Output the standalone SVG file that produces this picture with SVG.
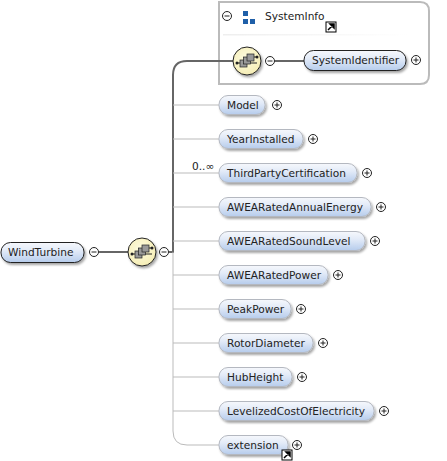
<svg xmlns="http://www.w3.org/2000/svg" width="447" height="461" viewBox="0 0 447 461">
<style>
.t{font-family:"DejaVu Sans",sans-serif;font-size:10.6px;fill:#222}
.el{fill:url(#g);stroke:#222;stroke-width:1;filter:url(#sh)}
.op{fill:url(#g);stroke:#b4b8c0;stroke-width:1;filter:url(#sh)}
.thin{fill:none;stroke:#bbb;stroke-width:1}
.thick{fill:none;stroke:#666;stroke-width:2}
.c{fill:#fff;stroke:#222;stroke-width:1}
.s{stroke:#222;stroke-width:1;fill:none}
</style>
<defs>
<linearGradient id="g" x1="0" y1="0" x2="0" y2="1"><stop offset="0" stop-color="#f6f8fc"/><stop offset=".4" stop-color="#e3ebf8"/><stop offset="1" stop-color="#b6ccec"/></linearGradient>
<radialGradient id="y" cx=".45" cy=".4" r=".6"><stop offset="0" stop-color="#fdfbe0"/><stop offset="1" stop-color="#f6eeb6"/></radialGradient>
<linearGradient id="fade" x1="0" y1="0" x2="1" y2="0"><stop offset="0" stop-color="#eee"/><stop offset="1" stop-color="#fff"/></linearGradient>
<filter id="sh" x="-20%" y="-30%" width="140%" height="170%"><feDropShadow dx="1.500" dy="2" stdDeviation="1" flood-color="#000" flood-opacity=".35"/></filter>
<g id="plus"><circle r="4.500" class="c"/><path d="M-2.500 0H2.500M0-2.500V2.500" class="s"/></g>
<g id="minus"><circle r="4.500" class="c"/><path d="M-2.500 0H2.500" class="s"/></g>
<g id="seq"><circle r="14" fill="url(#y)" stroke="#222" stroke-width="1" filter="url(#sh)"/><path d="M-10 2H10M6-4H10" stroke="#222" stroke-width="1"/><rect x="-7" y="-1" width="7" height="7" fill="#999" stroke="#222" stroke-width=".7"/><rect x="-3.500" y="-4" width="7" height="7" fill="#999" stroke="#222" stroke-width=".7"/><rect x="0" y="-7" width="7" height="7" fill="#999" stroke="#222" stroke-width=".7"/><circle cx="-10" cy="2" r="1.500" fill="#222"/><circle cx="10" cy="-4" r="1.500" fill="#222"/></g>
<g id="link"><rect x="-5" y="-5" width="10" height="10" fill="#fff" stroke="#000" stroke-width="1"/><path d="M-3 3L2-2M-1-3H3V1Z" stroke="#000" stroke-width="1.500" fill="#000"/></g>
</defs>
<rect width="447" height="461" fill="#fff"/>
<g id="SystemInfo">
<path d="M219 2H420Q429 2 429 11V75Q429 84 420 84H219Z" fill="#fff" stroke="#bbb" stroke-width="2"/>
<rect x="223" y="34" width="185" height="1.500" fill="url(#fade)"/>
<use href="#minus" x="227" y="16"/>
<rect x="243" y="11" width="5" height="5" fill="#1f5fa8"/><rect x="243" y="19" width="5" height="5" fill="#1f5fa8"/><rect x="250" y="19" width="5" height="5" fill="#1f5fa8"/>
<text class="t" x="265" y="20">SystemInfo</text>
<use href="#link" x="331" y="27"/>
</g>
<g id="connectors">
<path class="thick" d="M99 252H128M169 252H173V75Q173 61 187 61H233M275 61H304"/>
<path class="thin" d="M173 105H219M173 139H219M173 173H219M173 207H219M173 241H219M173 275H219M173 309H219M173 343H219M173 377H219M173 411H219M173 252V431Q173 445 187 445H219"/>
</g>
<g id="seq1"><use href="#seq" x="247" y="61"/><use href="#minus" x="270" y="61"/></g>
<g id="seq0"><use href="#seq" x="142" y="252"/><use href="#minus" x="164" y="252"/></g>
<g id="WindTurbine"><rect class="el" x="1" y="242.500" width="83" height="20" rx="9.500"/><text class="t" x="8" y="256">WindTurbine</text><use href="#minus" x="94" y="252"/></g>
<g id="SystemIdentifier"><rect class="el" x="304" y="50.500" width="102" height="20" rx="9.500"/><text class="t" x="312" y="64">SystemIdentifier</text><use href="#plus" x="416" y="60"/></g>
<g id="Model"><rect class="op" x="219" y="95.500" width="46" height="19" rx="9"/><text class="t" x="227" y="109">Model</text><use href="#plus" x="277" y="105"/></g>
<g id="YearInstalled"><rect class="op" x="219" y="129.500" width="84" height="19" rx="9"/><text class="t" x="227" y="143">YearInstalled</text><use href="#plus" x="313" y="139"/></g>
<g id="ThirdPartyCertification"><text class="t" x="192" y="170">0..∞</text><rect class="op" x="219" y="163.500" width="138" height="19" rx="9"/><text class="t" x="227" y="177">ThirdPartyCertification</text><use href="#plus" x="367" y="173"/></g>
<g id="AWEARatedAnnualEnergy"><rect class="op" x="219" y="197.500" width="152" height="19" rx="9"/><text class="t" x="227" y="211">AWEARatedAnnualEnergy</text><use href="#plus" x="381" y="207"/></g>
<g id="AWEARatedSoundLevel"><rect class="op" x="219" y="231.500" width="146" height="19" rx="9"/><text class="t" x="227" y="245">AWEARatedSoundLevel</text><use href="#plus" x="375" y="241"/></g>
<g id="AWEARatedPower"><rect class="op" x="219" y="265.500" width="109" height="19" rx="9"/><text class="t" x="227" y="279">AWEARatedPower</text><use href="#plus" x="338" y="275"/></g>
<g id="PeakPower"><rect class="op" x="219" y="299.500" width="72" height="19" rx="9"/><text class="t" x="227" y="313">PeakPower</text><use href="#plus" x="301" y="309"/></g>
<g id="RotorDiameter"><rect class="op" x="219" y="333.500" width="94" height="19" rx="9"/><text class="t" x="227" y="347">RotorDiameter</text><use href="#plus" x="323" y="343"/></g>
<g id="HubHeight"><rect class="op" x="219" y="367.500" width="73" height="19" rx="9"/><text class="t" x="227" y="381">HubHeight</text><use href="#plus" x="302" y="377"/></g>
<g id="LevelizedCostOfElectricity"><rect class="op" x="219" y="401.500" width="155" height="19" rx="9"/><text class="t" x="227" y="415">LevelizedCostOfElectricity</text><use href="#plus" x="384" y="411"/></g>
<g id="extension"><rect class="op" x="219" y="435.500" width="69" height="19" rx="9"/><text class="t" x="227" y="449">extension</text><use href="#plus" x="297" y="445"/><use href="#link" x="287" y="455"/></g>
</svg>
